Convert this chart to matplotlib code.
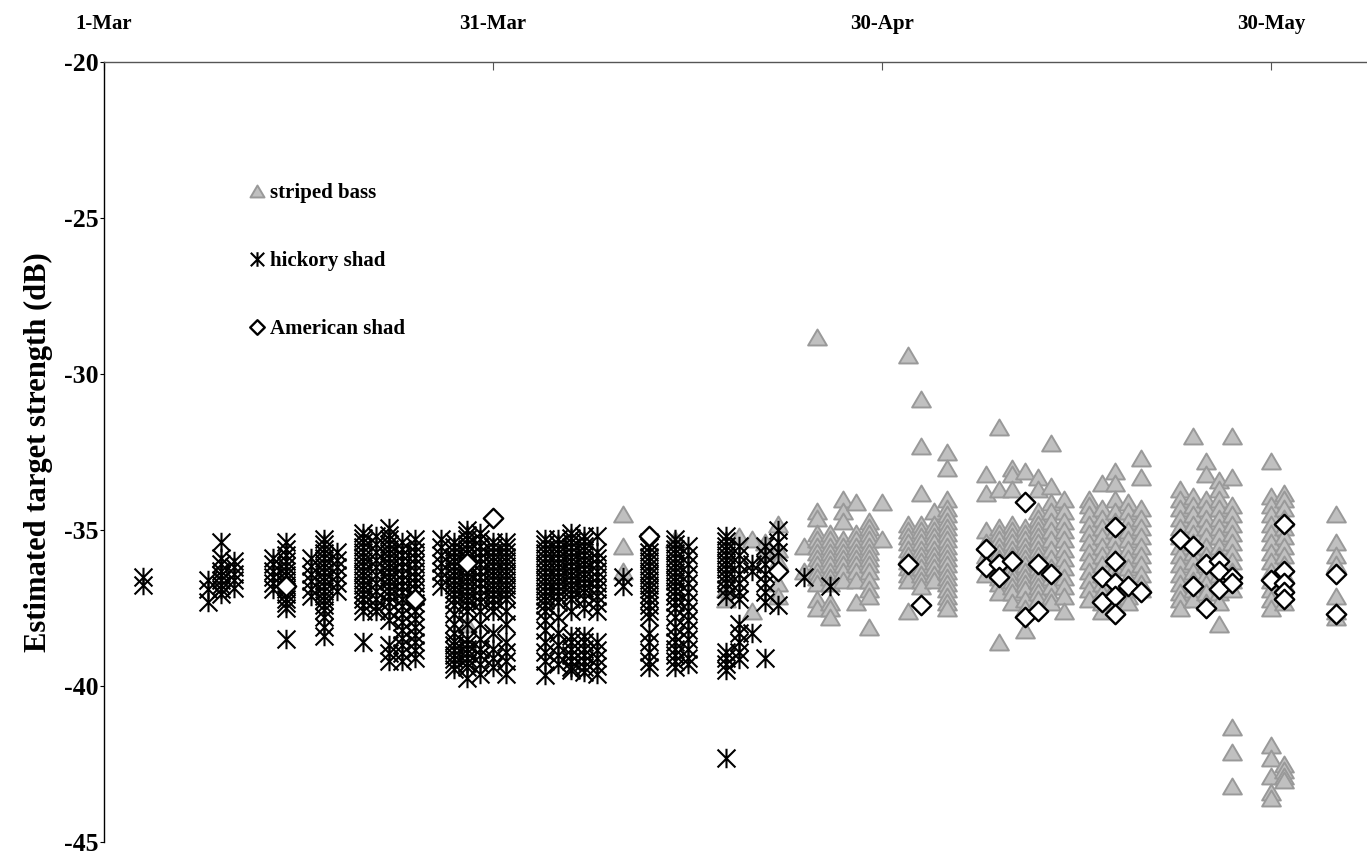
import matplotlib
matplotlib.use("Agg")
import matplotlib.pyplot as plt
from matplotlib.path import Path
from matplotlib.lines import Line2D

plt.rcParams['font.family'] = ['Liberation Serif', 'DejaVu Serif']
plt.rcParams['font.weight'] = 'bold'

# x positions are days after 1-Mar
tick_days = [0, 30, 60, 90]
tick_labels = ['1-Mar', '31-Mar', '30-Apr', '30-May']
y_ticks = [-20, -25, -30, -35, -40, -45]

bass_days = [28, 40, 44, 48, 49, 50, 51, 52, 54, 55, 56, 57, 58, 59, 60, 62, 63, 64, 65,
             68, 69, 70, 71, 72, 73, 74, 76, 77, 78, 79, 80, 83, 84, 85, 86, 87, 90, 91, 95]
bass_ts = [
    [-38.0],
    [-34.5, -35.5, -36.3],
    [-35.3],
    [-36.9, -37.2],
    [-35.2],
    [-35.3, -37.6],
    [-35.4, -35.7],
    [-34.8, -35.6, -36.0, -36.7, -37.1],
    [-35.5, -36.3],
    [-28.8, -34.4, -34.6, -35.1, -35.3, -35.5, -35.7, -35.9, -36.1, -36.3, -36.5, -36.7, -37.2, -37.5],
    [-35.1, -35.3, -35.5, -35.7, -35.9, -36.1, -36.3, -36.5, -36.7, -37.3, -37.5, -37.8],
    [-34.0, -34.4, -34.7, -35.3, -35.5, -35.7, -35.9, -36.1, -36.3, -36.6],
    [-34.1, -35.1, -35.3, -35.5, -35.7, -35.9, -36.1, -36.3, -36.6, -37.3],
    [-34.7, -34.9, -35.1, -35.3, -35.5, -35.7, -35.9, -36.1, -36.3, -36.6, -36.9, -37.1, -38.1],
    [-34.1, -35.3],
    [-29.4, -34.8, -35.0, -35.2, -35.4, -35.6, -35.8, -36.0, -36.2, -36.4, -36.6, -37.6],
    [-30.8, -32.3, -33.8, -34.8, -35.0, -35.2, -35.4, -35.6, -35.8, -36.0, -36.2, -36.4, -36.6, -36.8],
    [-34.4, -34.8, -35.0, -35.2, -35.4, -35.6, -35.8, -36.0, -36.2, -36.4, -36.6],
    [-32.5, -33.0, -34.0, -34.3, -34.5, -34.7, -34.9, -35.1, -35.3, -35.5, -35.7, -35.9, -36.1, -36.3,
     -36.5, -36.7, -36.9, -37.1, -37.3, -37.5],
    [-33.2, -33.8, -35.0, -35.4, -35.8, -36.0, -36.4],
    [-31.7, -33.7, -34.9, -35.1, -35.3, -35.5, -35.7, -35.9, -36.1, -36.3, -36.5, -36.7, -37.0, -38.6],
    [-33.0, -33.2, -33.7, -34.8, -35.0, -35.2, -35.4, -35.6, -35.8, -36.0, -36.2, -36.4, -36.6, -36.8, -37.0, -37.3],
    [-33.1, -34.9, -35.1, -35.3, -35.5, -35.7, -35.9, -36.1, -36.3, -36.5, -36.7, -36.9, -37.2, -37.5, -38.2],
    [-33.3, -33.7, -34.4, -34.6, -34.8, -35.0, -35.2, -35.4, -35.6, -35.8, -36.0, -36.2, -36.4, -36.6, -36.8, -37.0, -37.2],
    [-32.2, -33.6, -34.1, -34.4, -34.7, -35.0, -35.3, -35.6, -35.9, -36.2, -36.5, -36.8, -37.1, -37.3],
    [-34.0, -34.4, -34.7, -35.0, -35.3, -35.6, -35.9, -36.2, -36.5, -36.8, -37.1, -37.6],
    [-34.0, -34.2, -34.5, -34.8, -35.1, -35.4, -35.7, -36.0, -36.3, -36.6, -36.9, -37.2],
    [-33.5, -34.3, -34.6, -34.9, -35.2, -35.5, -35.8, -36.1, -36.4, -36.7, -37.0, -37.3, -37.6],
    [-33.1, -33.5, -34.0, -34.4, -34.7, -35.0, -35.3, -35.6, -35.9, -36.2, -36.5, -36.8, -37.1, -37.4],
    [-34.1, -34.4, -34.7, -35.0, -35.3, -35.6, -35.9, -36.2, -36.5, -36.8, -37.1, -37.3],
    [-32.7, -33.3, -34.3, -34.6, -34.9, -35.2, -35.5, -35.8, -36.1, -36.4, -36.7, -36.9],
    [-33.7, -34.0, -34.3, -34.6, -34.9, -35.2, -35.5, -35.8, -36.1, -36.4, -36.7, -37.0, -37.2, -37.5],
    [-32.0, -33.9, -34.2, -34.5, -34.8, -35.1, -35.4, -35.7, -36.0, -36.3, -36.6, -36.9, -37.2],
    [-32.8, -33.2, -34.0, -34.3, -34.6, -34.9, -35.2, -35.5, -35.8, -36.1, -36.4, -36.7, -37.0, -37.3],
    [-33.4, -33.7, -34.0, -34.3, -34.6, -34.9, -35.2, -35.5, -35.8, -36.1, -36.4, -36.7, -37.0, -37.3, -38.0],
    [-32.0, -33.3, -34.2, -34.5, -34.8, -35.1, -35.4, -35.7, -36.0, -36.3, -36.6, -36.9, -41.3, -42.1, -43.2],
    [-32.8, -33.9, -34.2, -34.5, -34.8, -35.1, -35.4, -35.7, -36.0, -36.3, -36.6, -36.9, -37.2, -37.5,
     -41.9, -42.3, -42.9, -43.4, -43.6],
    [-33.8, -34.0, -34.3, -34.6, -34.9, -35.2, -35.5, -35.8, -36.1, -36.4, -36.7, -37.0, -37.3,
     -42.5, -42.7, -42.9, -43.0],
    [-34.5, -35.4, -35.8, -36.1, -37.1, -37.6, -37.8],
]

hickory_days = [3, 8, 9, 10, 13, 14, 16, 17, 18, 20, 21, 22, 23, 24, 26, 27, 28, 29, 30, 31,
                34, 35, 36, 37, 38, 40, 42, 44, 45, 48, 49, 50, 51, 52, 54, 56]
hickory_ts = [
    [-36.5, -36.75],
    [-36.6, -36.9, -37.3],
    [-35.4, -35.9, -36.1, -36.3, -36.45, -36.6, -36.75, -36.9, -37.05],
    [-36.0, -36.2, -36.4, -36.6, -36.85],
    [-35.9, -36.1, -36.3, -36.5, -36.7, -36.9],
    [-35.4, -35.6, -35.8, -36.0, -36.15, -36.3, -36.45, -36.6, -36.75, -36.9, -37.05, -37.2, -37.35, -37.5, -38.5],
    [-35.9, -36.15, -36.4, -36.65, -36.9, -37.1],
    [-35.3, -35.45, -35.6, -35.75, -35.9, -36.05, -36.2, -36.35, -36.5, -36.65, -36.8, -36.95, -37.1,
     -37.25, -37.4, -37.55, -37.8, -38.1, -38.4],
    [-35.7, -35.95, -36.2, -36.45, -36.7, -36.95],
    [-35.1, -35.25, -35.4, -35.55, -35.7, -35.85, -36.0, -36.15, -36.3, -36.45, -36.6, -36.75, -36.9,
     -37.05, -37.2, -37.4, -37.6, -38.6],
    [-35.2, -35.45, -35.7, -35.95, -36.2, -36.45, -36.7, -36.95, -37.2, -37.45, -37.6],
    [-34.95, -35.15, -35.3, -35.45, -35.6, -35.75, -35.9, -36.05, -36.2, -36.35, -36.5, -36.65, -36.8,
     -36.95, -37.1, -37.3, -37.6, -37.9, -38.7, -38.95, -39.2],
    [-35.4, -35.6, -35.8, -36.0, -36.2, -36.4, -36.6, -36.8, -37.0, -37.2, -37.45, -37.7, -37.95,
     -38.2, -38.45, -38.7, -38.95, -39.2],
    [-35.3, -35.5, -35.7, -35.9, -36.1, -36.3, -36.5, -36.7, -36.9, -37.1, -37.35, -37.6, -37.85,
     -38.1, -38.35, -38.6, -38.85, -39.1],
    [-35.3, -35.55, -35.8, -36.05, -36.3, -36.55, -36.8],
    [-35.4, -35.55, -35.7, -35.85, -36.0, -36.15, -36.3, -36.45, -36.6, -36.75, -36.9, -37.05, -37.2,
     -37.4, -37.7, -38.0, -38.3, -38.55, -38.7, -38.85, -39.0, -39.15, -39.3, -39.45],
    [-35.0, -35.15, -35.3, -35.45, -35.6, -35.75, -35.9, -36.05, -36.2, -36.35, -36.5, -36.65, -36.8,
     -36.95, -37.1, -37.25, -37.4, -37.6, -38.0, -38.5, -38.65, -38.8, -38.95, -39.1, -39.25, -39.4, -39.75],
    [-35.1, -35.3, -35.5, -35.7, -35.9, -36.1, -36.3, -36.5, -36.7, -36.9, -37.1, -37.3, -37.6,
     -38.0, -38.5, -38.8, -39.0, -39.3, -39.6],
    [-35.4, -35.55, -35.7, -35.85, -36.0, -36.15, -36.3, -36.45, -36.6, -36.75, -36.9, -37.05, -37.2,
     -37.4, -37.6, -38.3, -38.8, -39.1, -39.4],
    [-35.4, -35.55, -35.7, -35.85, -36.0, -36.15, -36.3, -36.45, -36.6, -36.75, -36.9, -37.05, -37.2,
     -37.6, -38.0, -38.6, -38.9, -39.2, -39.6],
    [-35.3, -35.45, -35.6, -35.75, -35.9, -36.05, -36.2, -36.35, -36.5, -36.65, -36.8, -36.95, -37.1,
     -37.25, -37.4, -37.6, -37.9, -38.2, -38.6, -38.9, -39.2, -39.65],
    [-35.3, -35.45, -35.6, -35.75, -35.9, -36.05, -36.2, -36.35, -36.5, -36.65, -36.8, -36.95, -37.1,
     -37.3, -37.8, -38.3, -38.7, -39.0, -39.3],
    [-35.1, -35.25, -35.4, -35.55, -35.7, -35.85, -36.0, -36.15, -36.3, -36.45, -36.6, -36.75, -36.9,
     -37.05, -37.2, -37.6, -38.4, -38.6, -38.8, -39.0, -39.2, -39.4, -39.5],
    [-35.2, -35.35, -35.5, -35.65, -35.8, -35.95, -36.1, -36.25, -36.4, -36.55, -36.7, -36.85, -37.0,
     -37.2, -37.5, -38.4, -38.6, -38.8, -39.0, -39.2, -39.4, -39.55],
    [-35.2, -35.7, -35.9, -36.1, -36.3, -36.5, -36.7, -36.9, -37.1, -37.35, -37.6, -38.6, -38.85,
     -39.1, -39.35, -39.6],
    [-36.5, -36.8],
    [-35.4, -35.55, -35.7, -35.85, -36.0, -36.15, -36.3, -36.45, -36.6, -36.75, -36.9, -37.05, -37.2,
     -37.4, -37.6, -37.8, -38.3, -38.6, -38.9, -39.2, -39.4],
    [-35.3, -35.45, -35.6, -35.75, -35.9, -36.05, -36.2, -36.35, -36.5, -36.65, -36.8, -36.95, -37.1,
     -37.3, -37.5, -37.8, -38.1, -38.4, -38.6, -38.8, -39.0, -39.2, -39.4],
    [-35.5, -35.8, -36.1, -36.4, -36.7, -37.0, -37.3, -37.6, -37.9, -38.2, -38.5, -38.8, -39.1, -39.3],
    [-35.2, -35.35, -35.5, -35.65, -35.8, -35.95, -36.1, -36.25, -36.4, -36.55, -36.7, -36.9, -37.1,
     -38.9, -39.1, -39.3, -39.5, -42.3],
    [-35.5, -35.8, -36.1, -36.4, -36.7, -37.0, -37.2, -38.0, -38.3, -38.6, -38.9, -39.15],
    [-36.1, -36.3, -38.3],
    [-35.5, -35.8, -36.1, -36.4, -36.7, -37.0, -37.3, -39.1],
    [-35.0, -35.4, -35.7, -37.4],
    [-36.5],
    [-36.8],
]

american_days = [14, 24, 28, 30, 42, 52, 62, 63, 68, 69, 70, 71, 72, 73, 77, 78, 79, 80,
                 83, 84, 85, 86, 87, 90, 91, 95]
american_ts = [
    [-36.8],
    [-37.2],
    [-36.05],
    [-34.6],
    [-35.2],
    [-36.3],
    [-36.1],
    [-37.4],
    [-35.6, -36.2],
    [-36.1, -36.5],
    [-36.0],
    [-34.1, -37.8],
    [-36.1, -37.6],
    [-36.4],
    [-36.5, -37.3],
    [-34.9, -36.0, -36.7, -37.1, -37.7],
    [-36.8],
    [-37.0],
    [-35.3],
    [-35.5, -36.8],
    [-36.1, -37.5],
    [-36.0, -36.3, -36.9],
    [-36.5, -36.7],
    [-36.6],
    [-34.8, -36.3, -36.7, -37.0, -37.2],
    [-36.4, -37.7],
]

series_names = ['striped bass', 'hickory shad', 'American shad']


def flatten(days, groups):
    xs, ys = [], []
    for d, vals in zip(days, groups):
        for v in vals:
            xs.append(d)
            ys.append(v)
    return xs, ys


M, L, C = Path.MOVETO, Path.LINETO, Path.CLOSEPOLY
asterisk = Path([(0, -1), (0, 1), (-0.92, -0.92), (0.92, 0.92), (-0.92, 0.92), (0.92, -0.92)],
                [M, L, M, L, M, L])
triangle = Path([(0, 0.85), (-1, -0.85), (1, -0.85), (0, 0.85)], [M, L, L, C])
diamond = Path([(0, 1), (1, 0), (0, -1), (-1, 0), (0, 1)], [M, L, L, L, C])

bass_style = dict(linestyle='none', marker=triangle, ms=13.5, mfc='#c0c0c0', mec='#999999', mew=1.4)
hick_style = dict(linestyle='none', marker=asterisk, ms=14, mfc='none', mec='black', mew=1.5)
amer_style = dict(linestyle='none', marker=diamond, ms=14, mfc='white', mec='black', mew=1.7)

fig = plt.figure(figsize=(13.67, 8.56), dpi=100)
ax = fig.add_axes([104 / 1367, 1 - 842 / 856, 1 - 104 / 1367, (842 - 62) / 856])

bx, by = flatten(bass_days, bass_ts)
hx, hy = flatten(hickory_days, hickory_ts)
axx, axy = flatten(american_days, american_ts)
ax.plot(bx, by, **bass_style)
ax.plot(hx, hy, **hick_style)
ax.plot(axx, axy, **amer_style)

ax.set_xlim(0, (1367 - 104) / (389 / 30))
ax.set_ylim(-45, -20)
ax.set_yticks(y_ticks)
ax.set_yticklabels([str(v) for v in y_ticks])
ax.set_xticks(tick_days)
ax.set_xticklabels(tick_labels)

for s in ['right', 'bottom']:
    ax.spines[s].set_visible(False)
ax.spines['top'].set_color('#555555')
ax.spines['left'].set_color('black')
ax.spines['top'].set_linewidth(1.0)
ax.spines['left'].set_linewidth(1.0)

ax.xaxis.set_ticks_position('top')
ax.xaxis.set_label_position('top')
ax.tick_params(axis='x', which='major', top=True, bottom=False, labeltop=True, labelbottom=False,
               direction='in', length=6, width=0.8, color='#555555', pad=20.5, labelsize=15)
ax.tick_params(axis='y', which='major', direction='out', length=3, width=0.8, pad=0.8, labelsize=18.5)
for lab in ax.get_xticklabels() + ax.get_yticklabels():
    lab.set_fontweight('bold')

ax.set_ylabel('Estimated target strength (dB)', fontsize=22, fontweight='bold', labelpad=8)

handles = [Line2D([], [], **bass_style), Line2D([], [], **hick_style), Line2D([], [], **amer_style)]
leg = ax.legend(handles, series_names, loc='upper left', bbox_to_anchor=(0.108, 0.855),
                frameon=False, fontsize=15, labelspacing=2.3, handlelength=0.8,
                handletextpad=0.2, markerscale=0.75, borderaxespad=0)
for t in leg.get_texts():
    t.set_fontweight('bold')

fig.savefig('out.png', dpi=100)
